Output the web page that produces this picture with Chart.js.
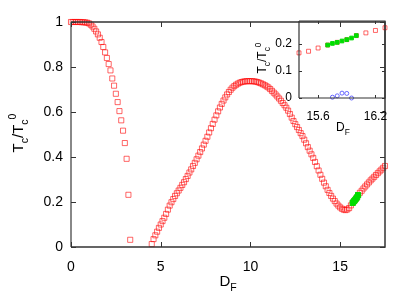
<!DOCTYPE html>
<html>
<head>
<meta charset="utf-8">
<script src="https://cdn.jsdelivr.net/npm/chart.js@4"></script>
<style>
  html, body { margin: 0; padding: 0; background: #fff; }
  #wrap { position: relative; width: 415px; height: 291px; }
  #mainChart { position: absolute; left: 0; top: 0; }
  #insetChart { position: absolute; left: 250px; top: 0; }
</style>
</head>
<body>
<div id="wrap">
  <canvas id="mainChart" width="415" height="291"></canvas>
  <canvas id="insetChart" width="165" height="140"></canvas>
</div>
<script>
// red squares: T_c/T_c^0 against D_F
const dfValues = [
  0.0, 0.1, 0.2, 0.3, 0.4, 0.5, 0.6, 0.7, 0.8, 0.9,
  1.0, 1.1, 1.2, 1.3, 1.4, 1.5, 1.6, 1.7, 1.8, 1.9,
  2.0, 2.1, 2.2, 2.3, 2.4, 2.5, 2.6, 2.7, 2.8, 2.9,
  3.0, 3.1, 3.2, 3.3,
  4.5, 4.6, 4.7, 4.8, 4.9,
  5.0, 5.1, 5.2, 5.3, 5.4, 5.5, 5.6, 5.7, 5.8, 5.9,
  6.0, 6.1, 6.2, 6.3, 6.4, 6.5, 6.6, 6.7, 6.8, 6.9,
  7.0, 7.1, 7.2, 7.3, 7.4, 7.5, 7.6, 7.7, 7.8, 7.9,
  8.0, 8.1, 8.2, 8.3, 8.4, 8.5, 8.6, 8.7, 8.8, 8.9,
  9.0, 9.1, 9.2, 9.3, 9.4, 9.5, 9.6, 9.7, 9.8, 9.9,
  10.0, 10.1, 10.2, 10.3, 10.4, 10.5, 10.6, 10.7, 10.8, 10.9,
  11.0, 11.1, 11.2, 11.3, 11.4, 11.5, 11.6, 11.7, 11.8, 11.9,
  12.0, 12.1, 12.2, 12.3, 12.4, 12.5, 12.6, 12.7, 12.8, 12.9,
  13.0, 13.1, 13.2, 13.3, 13.4, 13.5, 13.6, 13.7, 13.8, 13.9,
  14.0, 14.1, 14.2, 14.3, 14.4, 14.5, 14.6, 14.7, 14.8, 14.9,
  15.0, 15.1, 15.2, 15.3, 15.4, 15.5, 15.6, 15.7, 15.8, 15.9,
  16.0, 16.1, 16.2, 16.3, 16.4, 16.5, 16.6, 16.7, 16.8, 16.9,
  17.0, 17.1, 17.2, 17.3, 17.4, 17.5
];
const tcRed = [
  1.000, 1.000, 1.000, 1.000, 1.000, 1.000, 0.999, 0.999, 0.998, 0.997,
  0.994, 0.988, 0.980, 0.970, 0.958, 0.945, 0.930, 0.911, 0.889, 0.865,
  0.840, 0.813, 0.785, 0.749, 0.717, 0.681, 0.644, 0.604, 0.563, 0.517,
  0.462, 0.392, 0.232, 0.032,
  0.013, 0.035, 0.052, 0.068, 0.085,
  0.100, 0.115, 0.130, 0.147, 0.166, 0.184, 0.199, 0.213, 0.227, 0.239,
  0.251, 0.263, 0.276, 0.288, 0.302, 0.316, 0.331, 0.345, 0.360, 0.374,
  0.390, 0.406, 0.422, 0.438, 0.455, 0.472, 0.490, 0.509, 0.528, 0.547,
  0.566, 0.585, 0.603, 0.620, 0.636, 0.651, 0.665, 0.678, 0.689, 0.699,
  0.708, 0.715, 0.721, 0.726, 0.730, 0.733, 0.735, 0.736, 0.737, 0.737,
  0.737, 0.737, 0.736, 0.735, 0.733, 0.730, 0.727, 0.723, 0.719, 0.714,
  0.709, 0.702, 0.694, 0.686, 0.678, 0.669, 0.660, 0.650, 0.640, 0.630,
  0.619, 0.606, 0.591, 0.575, 0.560, 0.546, 0.533, 0.520, 0.506, 0.493,
  0.477, 0.461, 0.444, 0.428, 0.412, 0.396, 0.378, 0.359, 0.340, 0.321,
  0.303, 0.286, 0.270, 0.254, 0.240, 0.227, 0.215, 0.204, 0.193, 0.184,
  0.176, 0.170, 0.166, 0.164, 0.167, 0.173, 0.185, 0.196, 0.206, 0.216,
  0.231, 0.241, 0.250, 0.260, 0.269, 0.278, 0.287, 0.296, 0.304, 0.312,
  0.320, 0.328, 0.336, 0.344, 0.352, 0.360
];
// green filled squares
const dfGreen = [15.70, 15.75, 15.80, 15.85, 15.90, 15.95, 16.00];
const tcGreen = [0.196, 0.202, 0.206, 0.211, 0.216, 0.222, 0.231];
// blue open circles (inset only)
const dfBlue = [15.75, 15.80, 15.85, 15.90, 15.95];
const tcBlue = [0.003, 0.008, 0.018, 0.017, 0.000];

const xTicks = [0, 5, 10, 15];
const yTicks = [0, 0.2, 0.4, 0.6, 0.8, 1];
const yTickLabels = ["0", "0.2", "0.4", "0.6", "0.8", "1"];
const insetXTicks = [15.6, 16.2];
const insetYTicks = [0, 0.1, 0.2];
const insetYTickLabels = ["0", "0.1", "0.2"];

const FONT = "'Liberation Sans', Arial, sans-serif";

function pts(xs, ys) {
    return xs.map((x, i) => ({ x: x, y: ys[i] }));
}

function richText(ctx, parts, x, y, size) {
    let total = 0;
    parts.forEach(p => {
        p.s = (p.sub || p.sup) ? size * 0.7 : size;
        ctx.font = p.s + "px " + FONT;
        p.w = ctx.measureText(p.t).width;
        total += p.w;
    });
    let cx = x - total / 2;
    ctx.textAlign = "left";
    ctx.textBaseline = "alphabetic";
    parts.forEach(p => {
        ctx.font = p.s + "px " + FONT;
        const dy = p.sub ? size * 0.3 : p.sup ? -size * 0.45 : 0;
        ctx.fillText(p.t, cx, y + dy);
        cx += p.w;
    });
}

const tcLabel = () => [{ t: "T" }, { t: "c", sub: true }, { t: "/T" }, { t: "c", sub: true }, { t: "0", sup: true }];
const dfLabel = () => [{ t: "D" }, { t: "F", sub: true }];

// frame, inward ticks on all sides and axis titles
function framePlugin(cfg) {
    return {
        id: "frame",
        afterDraw(chart) {
            const { ctx, chartArea: a, scales: { x, y } } = chart;
            ctx.save();
            ctx.strokeStyle = "#333";
            ctx.lineWidth = cfg.line;
            ctx.beginPath();
            ctx.moveTo(a.left, a.bottom); ctx.lineTo(a.right, a.bottom);
            ctx.lineTo(a.right, a.top); ctx.lineTo(a.left, a.top);
            ctx.stroke();
            ctx.strokeStyle = cfg.leftColor;
            ctx.lineWidth = cfg.leftWidth;
            ctx.beginPath();
            ctx.moveTo(a.left, a.top); ctx.lineTo(a.left, a.bottom);
            ctx.stroke();

            ctx.strokeStyle = "#333";
            ctx.lineWidth = 1;
            ctx.beginPath();
            x.ticks.forEach(t => {
                const px = Math.round(x.getPixelForValue(t.value)) + 0.5;
                ctx.moveTo(px, a.bottom); ctx.lineTo(px, a.bottom - cfg.tick);
                ctx.moveTo(px, a.top); ctx.lineTo(px, a.top + cfg.tick);
            });
            y.ticks.forEach(t => {
                const py = Math.round(y.getPixelForValue(t.value)) + 0.5;
                ctx.moveTo(a.left, py); ctx.lineTo(a.left + cfg.tick, py);
                ctx.moveTo(a.right, py); ctx.lineTo(a.right - cfg.tick, py);
            });
            ctx.stroke();

            ctx.fillStyle = "#000";
            richText(ctx, dfLabel(), cfg.xTitle[0], cfg.xTitle[1], cfg.titleSize);
            ctx.translate(cfg.yTitle[0], cfg.yTitle[1]);
            ctx.rotate(-Math.PI / 2);
            richText(ctx, tcLabel(), 0, 0, cfg.titleSize);
            ctx.restore();
        }
    };
}

function axes(xMin, xMax, xt, yMin, yMax, yt, ytl, yWidth, xHeight, size, xPad, yPad) {
    return {
        x: {
            type: "linear", min: xMin, max: xMax,
            afterBuildTicks: s => { s.ticks = xt.map(v => ({ value: v })); },
            afterFit: s => { s.height = xHeight; },
            grid: { display: false, drawTicks: false },
            border: { display: false },
            ticks: { color: "#000", font: { family: FONT, size: size }, padding: xPad, maxRotation: 0,
                     callback: v => String(v) }
        },
        y: {
            type: "linear", min: yMin, max: yMax,
            afterBuildTicks: s => { s.ticks = yt.map(v => ({ value: v })); },
            afterFit: s => { s.width = yWidth; },
            grid: { display: false, drawTicks: false },
            border: { display: false },
            ticks: { color: "#000", font: { family: FONT, size: size }, padding: yPad,
                     callback: (v, i) => ytl[i] }
        }
    };
}

new Chart(document.getElementById("mainChart"), {
    type: "scatter",
    data: {
        datasets: [{
            data: pts(dfGreen, tcGreen),
            pointStyle: "rect", pointRadius: 3.6, borderWidth: 1,
            backgroundColor: "#00dd00", borderColor: "#00dd00", clip: false
        }, {
            data: pts(dfValues, tcRed),
            pointStyle: "rect", pointRadius: 3.6, borderWidth: 1,
            backgroundColor: "rgba(0,0,0,0)", borderColor: "rgba(255,0,0,0.6)", clip: false
        }]
    },
    options: {
        responsive: false, animation: false, devicePixelRatio: 1,
        layout: { padding: { top: 22, right: 30, left: 0, bottom: 0 } },
        plugins: { legend: { display: false }, tooltip: { enabled: false } },
        scales: axes(0, 17.5, xTicks, 0, 1, yTicks, yTickLabels, 71, 44, 14, 12, 8)
    },
    plugins: [framePlugin({ line: 1.5, leftColor: "#888", leftWidth: 2, tick: 5,
                            xTitle: [228, 286], yTitle: [23, 133], titleSize: 15 })]
});

new Chart(document.getElementById("insetChart"), {
    type: "scatter",
    data: {
        datasets: [{
            data: pts(dfGreen, tcGreen),
            pointStyle: "rect", pointRadius: 2.6, borderWidth: 1,
            backgroundColor: "#00dd00", borderColor: "#00dd00", clip: 4
        }, {
            data: pts(dfBlue, tcBlue),
            pointStyle: "circle", pointRadius: 2, borderWidth: 1,
            backgroundColor: "rgba(0,0,0,0)", borderColor: "rgba(70,70,255,0.8)", clip: 4
        }, {
            data: pts(dfValues, tcRed),
            pointStyle: "rect", pointRadius: 2.8, borderWidth: 1,
            backgroundColor: "rgba(0,0,0,0)", borderColor: "rgba(255,0,0,0.6)", clip: 4
        }]
    },
    options: {
        responsive: false, animation: false, devicePixelRatio: 1,
        layout: { padding: { top: 21, right: 30, left: 0, bottom: 0 } },
        plugins: { legend: { display: false }, tooltip: { enabled: false } },
        scales: axes(15.4, 16.3, insetXTicks, 0, 0.285, insetYTicks, insetYTickLabels, 49, 42, 12, 11, 7)
    },
    plugins: [framePlugin({ line: 1.2, leftColor: "#333", leftWidth: 1.2, tick: 3,
                            xTitle: [93, 131], yTitle: [16, 58], titleSize: 12 })]
});
</script>
</body>
</html>
